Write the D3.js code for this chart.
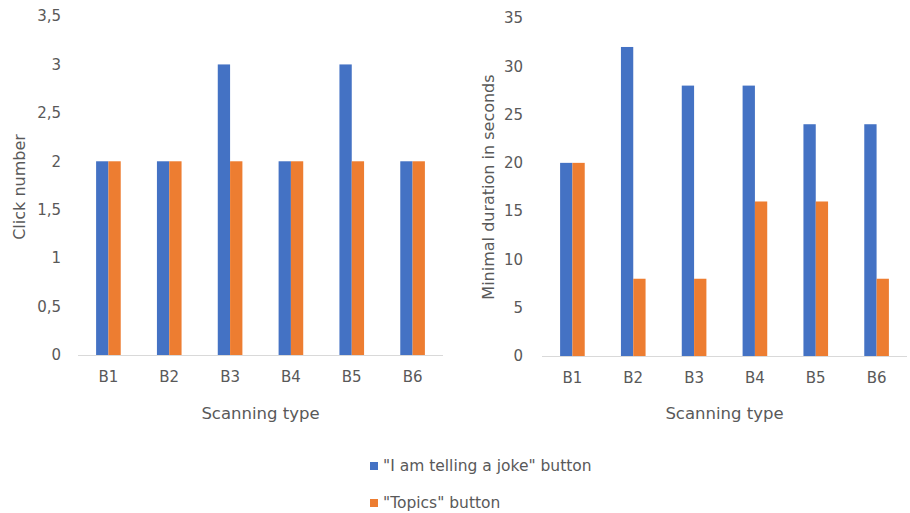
<!DOCTYPE html>
<html><head><meta charset="utf-8">
<script src="https://cdn.jsdelivr.net/npm/d3@7"></script>
<style>body{margin:0;background:#fff}svg{display:block}text{font-family:"DejaVu Sans",sans-serif;fill:#595959}</style>
</head><body>
<svg id="c" width="910" height="513"></svg>
<script>
const categories = ["B1","B2","B3","B4","B5","B6"];
const seriesNames = ['"I am telling a joke" button','"Topics" button'];
const clickJoke = [2,2,3,2,3,2];
const clickTopics = [2,2,2,2,2,2];
const durJoke = [20,32,28,28,24,24];
const durTopics = [20,8,8,16,16,8];
const clickTicks = [0,0.5,1,1.5,2,2.5,3,3.5];
const durTicks = [0,5,10,15,20,25,30,35];
const colors = ["#4472C4","#ED7D31"];

const svg = d3.select("#c");
const fmt = d => String(d).replace(".", ",");
const FF = '"DejaVu Sans",sans-serif';

function panel(cfg){
  const g = svg.append("g");
  const x = d3.scaleBand().domain(categories).range([cfg.x0, cfg.x1]);
  const y = d3.scaleLinear().domain([0, cfg.max]).range([cfg.y0, cfg.y1]);
  const inner = d3.scaleBand().domain([0,1]).range([0, x.bandwidth()]).paddingInner(0).paddingOuter(1.47);
  g.append("line").attr("x1", cfg.x0).attr("x2", cfg.x1).attr("y1", y(0)+0.5).attr("y2", y(0)+0.5)
    .attr("stroke", "#D9D9D9").attr("stroke-width", 1);
  [cfg.a, cfg.b].forEach((vals, si) => {
    g.selectAll(null).data(vals).enter().append("rect")
      .attr("x", (d,i) => x(categories[i]) + inner(si))
      .attr("width", inner.bandwidth())
      .attr("y", d => y(d))
      .attr("height", d => y(0) - y(d))
      .attr("fill", colors[si]);
  });
  const ya = d3.axisLeft(y).tickValues(cfg.ticks).tickFormat(fmt).tickSize(0).tickPadding(0);
  const yg = g.append("g").attr("transform", `translate(${cfg.tickX},0)`).call(ya);
  yg.select(".domain").remove();
  yg.selectAll("text").attr("font-size", 15).style("font-family", FF).attr("fill", "#595959");
  const xa = d3.axisBottom(x).tickSize(0).tickPadding(0);
  const xg = g.append("g").attr("transform", `translate(0,${y(0)+16})`).call(xa);
  xg.select(".domain").remove();
  xg.selectAll("text").attr("font-size", 15).style("font-family", FF).attr("fill", "#595959");
  g.append("text").attr("x", (cfg.x0+cfg.x1)/2).attr("y", 419).attr("text-anchor","middle")
    .attr("font-size", 16.5).text("Scanning type");
  g.append("text").attr("transform", `translate(${cfg.titleX},${cfg.titleY}) rotate(-90)`)
    .attr("text-anchor","middle").attr("dy","0.35em").attr("font-size", 16).text(cfg.title);
}

panel({x0:78, x1:443, y0:355, y1:16, max:3.5, ticks:clickTicks, a:clickJoke, b:clickTopics,
  tickX:61, titleX:19, titleY:187, title:"Click number"});
panel({x0:542, x1:907, y0:356, y1:18, max:35, ticks:durTicks, a:durJoke, b:durTopics,
  tickX:523, titleX:488, titleY:187, title:"Minimal duration in seconds"});

const leg = svg.append("g");
seriesNames.forEach((n,i) => {
  const yy = 466 + i*37;
  leg.append("rect").attr("x", 370).attr("y", yy-4).attr("width", 8).attr("height", 8).attr("fill", colors[i]);
  leg.append("text").attr("x", 383).attr("y", yy).attr("dy","0.35em").attr("font-size", 15.5).text(n);
});
</script>
</body></html>
